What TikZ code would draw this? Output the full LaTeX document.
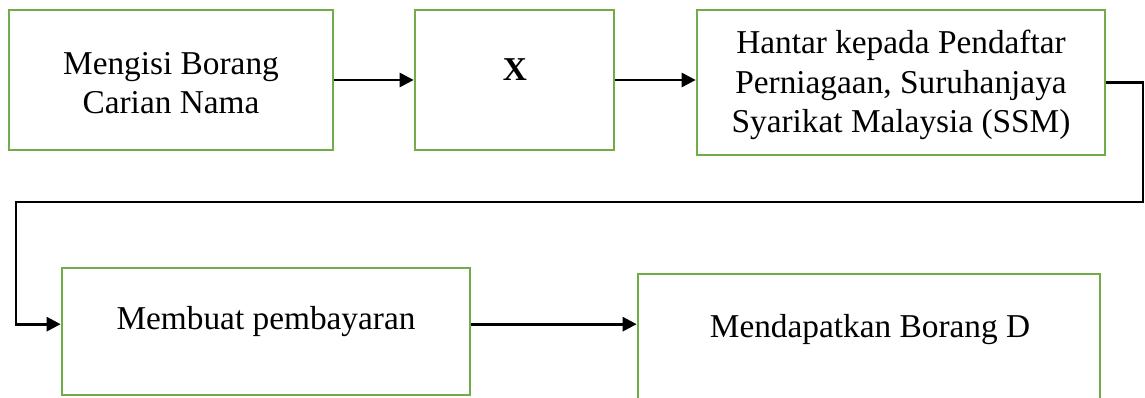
\documentclass[tikz,border=0pt]{standalone}
\usepackage{fontspec}
\setmainfont{Liberation Serif}
\usetikzlibrary{arrows.meta,fit}
\definecolor{boxgreen}{HTML}{70AD47}
\begin{document}
\begin{tikzpicture}[x=0.75pt,y=-0.75pt,
  box/.style={draw=boxgreen,line width=2pt,inner sep=0pt,fill=none},
  txt/.style={align=center,inner sep=0pt,font=\fontsize{25}{29.5}\selectfont},
  flow/.style={line width=2.1pt,-{Triangle[length=10.5pt,width=10.5pt]}}]
\useasboundingbox (0,0) rectangle (1145,398);
\clip (0,0) rectangle (1145,398);
\node[box,fit={(9,10) (333,150)}] (A) {};
\node[box,fit={(415,10) (614,150)}] (B) {};
\node[box,fit={(697,10) (1105,155)}] (C) {};
\node[box,fit={(62,268) (470,395)}] (D) {};
\node[box,fit={(638,274) (1100,430)}] (E) {};
\node[txt] (tA) at (171,83) {Mengisi Borang\\Carian Nama};
\node[txt] (tB) at (515,70) {\textbf{X}};
\node[txt] (tC) at (901,85) {Hantar kepada Pendaftar\\Perniagaan, Suruhanjaya\\Syarikat Malaysia (SSM)};
\node[txt] (tD) at (266,322) {Membuat pembayaran};
\node[txt] (tE) at (870,330) {Mendapatkan Borang D};
\coordinate (r) at (1143,202);
\coordinate (l) at (16,202);
\draw[flow] (A.east) -- (B.west);
\draw[flow] (B.east) -- (B.east -| C.west);
\draw[flow] (C.east) -| (r) -- (l) |- ([yshift=5.5pt]D.west);
\draw[flow] ([yshift=5.5pt]D.east) -- ([yshift=5.5pt]D.east -| E.west);
\end{tikzpicture}
\end{document}
